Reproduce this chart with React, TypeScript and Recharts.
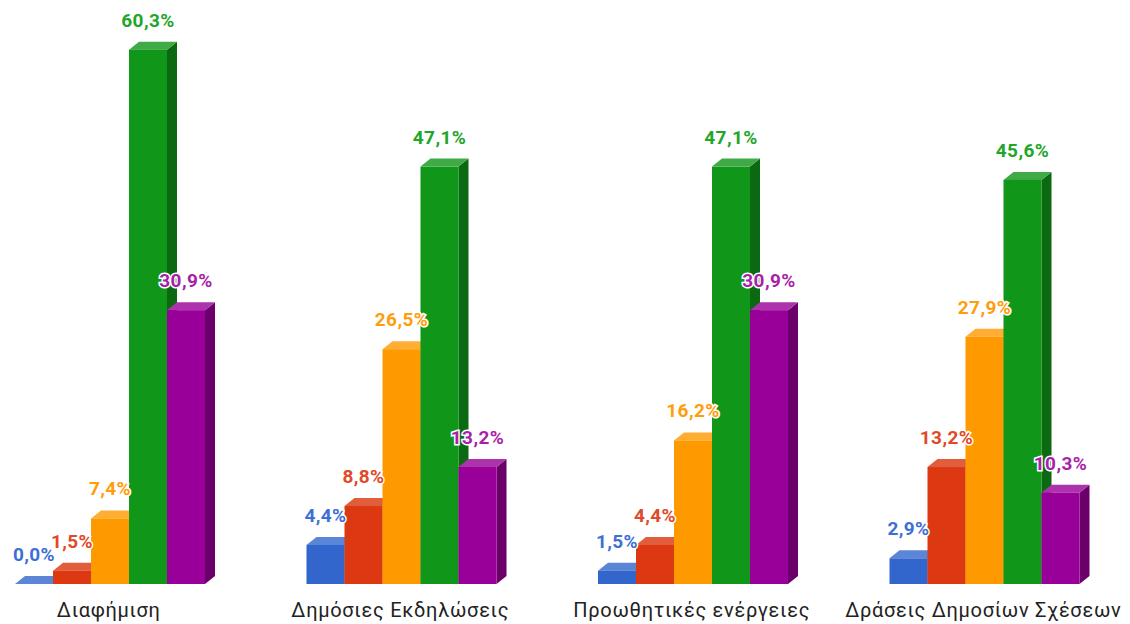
import { BarChart, Bar, XAxis, YAxis, LabelList } from 'recharts'

// Κατηγορίες και τιμές (%)
const categories = [
  'Διαφήμιση',
  'Δημόσιες Εκδηλώσεις',
  'Προωθητικές ενέργειες',
  'Δράσεις Δημοσίων Σχέσεων',
]
const seriesA = [0.0, 4.4, 1.5, 2.9]
const seriesB = [1.5, 8.8, 4.4, 13.2]
const seriesC = [7.4, 26.5, 16.2, 27.9]
const seriesD = [60.3, 47.1, 47.1, 45.6]
const seriesE = [30.9, 13.2, 30.9, 10.3]

const data = categories.map((name, i) => ({
  name,
  a: seriesA[i],
  b: seriesB[i],
  c: seriesC[i],
  d: seriesD[i],
  e: seriesE[i],
}))

// front / top / side / label
const PALETTE: Record<string, { front: string; top: string; side: string; label: string }> = {
  a: { front: '#3366cc', top: '#5b85d6', side: '#23478f', label: '#3d6fd6' },
  b: { front: '#dc3912', top: '#e25d3c', side: '#9a280d', label: '#e0492a' },
  c: { front: '#ff9900', top: '#ffad33', side: '#b36b00', label: '#ff9d0a' },
  d: { front: '#109618', top: '#40ab46', side: '#0b6911', label: '#22a62a' },
  e: { front: '#990099', top: '#ad33ad', side: '#6b006b', label: '#a81fa8' },
}

const DX = 10
const DY = 8
const FONT = 'Roboto, "Noto Sans", sans-serif'

function make3DShape(key: string) {
  const c = PALETTE[key]
  return (props: any) => {
    const { x, y, width, height } = props
    const w = width
    const h = Math.max(0, height)
    const top = `${x},${y} ${x + DX},${y - DY} ${x + w + DX},${y - DY} ${x + w},${y}`
    const side = `${x + w},${y} ${x + w + DX},${y - DY} ${x + w + DX},${y + h - DY} ${x + w},${y + h}`
    return (
      <g>
        <polygon points={side} fill={c.side} />
        <polygon points={top} fill={c.top} />
        <rect x={x} y={y} width={w} height={h} fill={c.front} />
      </g>
    )
  }
}

function makeLabel(key: string) {
  const c = PALETTE[key]
  return (props: any) => {
    const { x, y, width, value } = props
    const text = `${Number(value).toFixed(1).replace('.', ',')}%`
    return (
      <text
        x={x + width / 2}
        y={y - 23}
        textAnchor="middle"
        fill={c.label}
        stroke="#ffffff"
        strokeWidth={3}
        paintOrder="stroke"
        fontFamily={FONT}
        fontWeight={700}
        fontSize={19}
        letterSpacing={0.4}
      >
        {text}
      </text>
    )
  }
}

function CategoryTick(props: any) {
  const { x, y, payload } = props
  return (
    <text
      x={x}
      y={y + 33}
      textAnchor="middle"
      fill="#222222"
      fontFamily={FONT}
      fontSize={20}
      letterSpacing={0.7}
    >
      {payload.value}
    </text>
  )
}

export default function App() {
  const keys = ['a', 'b', 'c', 'd', 'e']
  return (
    <div style={{ position: 'relative', left: -45, width: 1166, height: 616 }}>
      <BarChart
        width={1166}
        height={616}
        data={data}
        margin={{ top: 0, right: 0, bottom: 0, left: 0 }}
        barCategoryGap={52}
        barGap={0}
      >
        <XAxis
          dataKey="name"
          axisLine={false}
          tickLine={false}
          tickSize={0}
          tickMargin={0}
          height={40}
          tick={<CategoryTick />}
          interval={0}
        />
        <YAxis hide domain={[0, 65]} />
        {keys.map((k) => (
          <Bar
            key={k}
            dataKey={k}
            shape={make3DShape(k)}
            isAnimationActive={false}
          >
            <LabelList dataKey={k} content={makeLabel(k)} />
          </Bar>
        ))}
      </BarChart>
    </div>
  )
}
